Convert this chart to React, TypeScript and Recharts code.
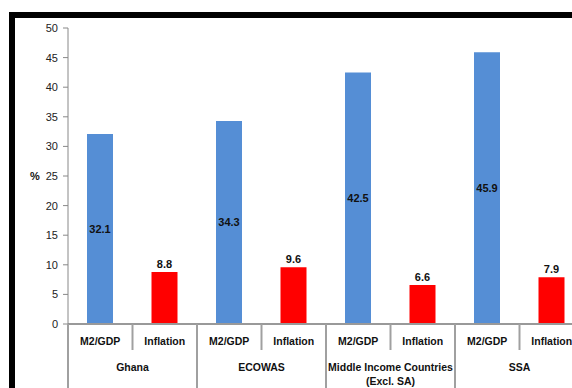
import React from "react";
import { BarChart, Bar, XAxis, YAxis, Cell, LabelList } from "recharts";

const groups = ["Ghana", "ECOWAS", "Middle Income Countries|(Excl. SA)", "SSA"];
const seriesNames = ["M2/GDP", "Inflation"];
const m2gdp = [32.1, 34.3, 42.5, 45.9];
const inflation = [8.8, 9.6, 6.6, 7.9];
const yTicks = [0, 5, 10, 15, 20, 25, 30, 35, 40, 45, 50];

const BLUE = "#558ED5";
const RED = "#FF0000";
const FONT = "'Liberation Sans', Arial, sans-serif";

const data = groups.flatMap((g, gi) => [
  { key: `${gi}-0`, cat: seriesNames[0], group: g, value: m2gdp[gi], kind: 0 },
  { key: `${gi}-1`, cat: seriesNames[1], group: g, value: inflation[gi], kind: 1 },
]);

const CHART_W = 584;
const CHART_H = 388;
const Y_W = 68;
const MARGIN = { top: 28, right: 0, bottom: 0, left: 0 };
const X_H = 64;
const BAND = (CHART_W - Y_W - MARGIN.left - MARGIN.right) / data.length;

const CatTick = (props: any) => {
  const { x, y, payload, index } = props;
  const row = data[index];
  const isGroupStart = row.kind === 0;
  const left = x - BAND / 2;
  const groupLines = isGroupStart ? row.group.split("|") : [];
  return (
    <g>
      <line
        x1={left}
        x2={left}
        y1={y}
        y2={isGroupStart ? y + 80 : y + 26}
        stroke="#A0A0A0"
        strokeWidth={2}
      />
      <text
        x={x}
        y={y + 21}
        textAnchor="middle"
        fontSize={10.5}
        fontWeight="bold"
        fill="#111"
        fontFamily={FONT}
      >
        {payload.value}
      </text>
      {groupLines.map((t: string, i: number) => (
        <text
          key={i}
          x={x + BAND / 2}
          y={y + 47 + i * 14}
          textAnchor="middle"
          fontSize={10.5}
          fontWeight="bold"
          fill="#111"
          fontFamily={FONT}
        >
          {t}
        </text>
      ))}
    </g>
  );
};

const ValueLabel = (props: any) => {
  const { x, y, width, height, value, index } = props;
  const row = data[index];
  const cx = x + width / 2;
  const ty = row.kind === 0 ? y + height / 2 + 4 : y - 4;
  return (
    <text
      x={cx}
      y={ty}
      textAnchor="middle"
      fontSize={11}
      fontWeight="bold"
      fill="#111"
      fontFamily={FONT}
    >
      {value}
    </text>
  );
};

export default function App() {
  return (
    <div
      style={{
        position: "fixed",
        left: 0,
        top: 0,
        width: 572,
        height: 388,
        overflow: "hidden",
        background: "#fff",
      }}
    >
      <BarChart width={CHART_W} height={CHART_H} data={data} margin={MARGIN}>
        <XAxis
          dataKey="cat"
          interval={0}
          height={X_H}
          tickSize={0}
          tickMargin={0}
          axisLine={{ stroke: "#999", strokeWidth: 2 }}
          tick={<CatTick />}
        />
        <YAxis
          width={Y_W}
          domain={[0, 50]}
          ticks={yTicks}
          interval={0}
          tickSize={5}
          tickMargin={5}
          tickLine={{ stroke: "#888" }}
          axisLine={{ stroke: "#888" }}
          tick={{ fontSize: 11, fill: "#222", fontFamily: FONT }}
          label={{
            value: "%",
            position: "insideLeft",
            offset: 30,
            style: { fontSize: 11, fontWeight: "bold", fill: "#111", fontFamily: FONT },
          }}
        />
        <Bar dataKey="value" barSize={26} isAnimationActive={false}>
          {data.map((d) => (
            <Cell key={d.key} fill={d.kind === 0 ? BLUE : RED} />
          ))}
          <LabelList dataKey="value" content={<ValueLabel />} />
        </Bar>
      </BarChart>
      <div
        style={{ position: "absolute", left: 9, top: 12, width: 600, height: 6, background: "#000" }}
      />
      <div
        style={{ position: "absolute", left: 9, top: 12, width: 6, height: 400, background: "#000" }}
      />
    </div>
  );
}
